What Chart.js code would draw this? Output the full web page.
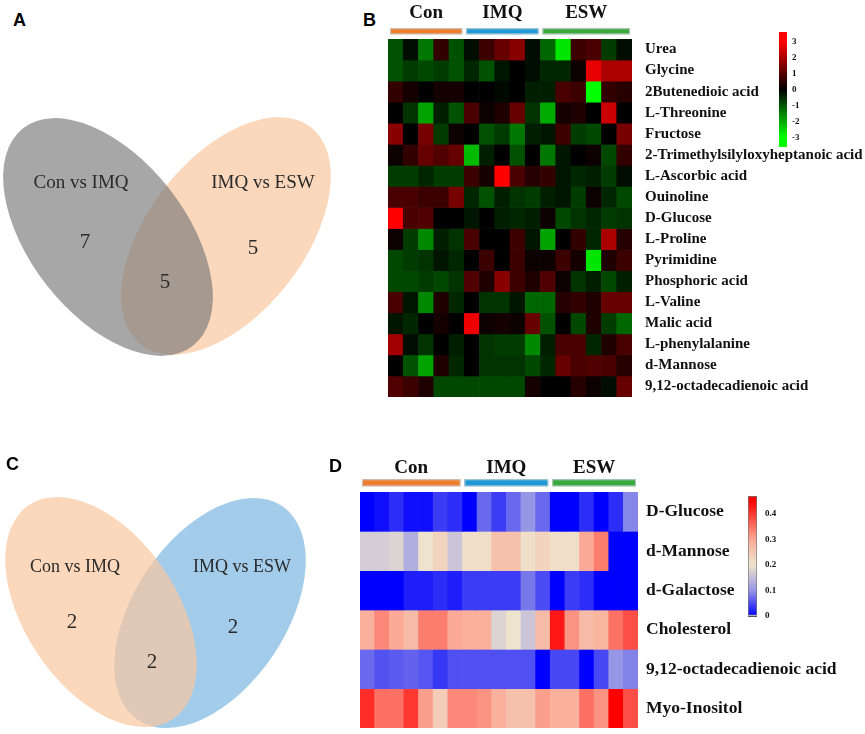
<!DOCTYPE html>
<html>
<head>
<meta charset="utf-8">
<title>Metabolite Venn diagrams and heatmaps</title>
<script src="https://cdn.jsdelivr.net/npm/chart.js@4.4.0/dist/chart.umd.min.js"></script>
<style>
    body { margin: 0; background: #fff; }
    #figure { position: relative; width: 865px; height: 734px; overflow: hidden; }
    #figure canvas { position: absolute; }
    .panel-tag { position: absolute; font: bold 18px "Liberation Sans", Arial, sans-serif; line-height: 18px; color: #000; }
</style>
</head>
<body>
<div id="figure">
    <canvas id="vennA" width="340" height="290" style="left:0px;top:90px"></canvas>
    <canvas id="vennC" width="340" height="264" style="left:0px;top:470px"></canvas>
    <canvas id="heatB" width="485" height="410" style="left:380px;top:0px"></canvas>
    <canvas id="heatD" width="515" height="294" style="left:350px;top:440px"></canvas>
    <canvas id="barB" width="40" height="130" style="left:770px;top:25px"></canvas>
    <canvas id="barD" width="50" height="135" style="left:740px;top:490px"></canvas>
    <div class="panel-tag" style="left:13px;top:11px">A</div>
    <div class="panel-tag" style="left:363px;top:11px">B</div>
    <div class="panel-tag" style="left:6px;top:455px">C</div>
    <div class="panel-tag" style="left:329px;top:457px">D</div>
</div>
<script>
// ---- data ----
const groupNames = ["Con", "IMQ", "ESW"];
const groupColors = ["#f07d2c", "#1d9ad6", "#3aa93b"];

const samplesB = ["C1", "C2", "C3", "C4", "C5", "I1", "I2", "I3", "I4", "I5", "E1", "E2", "E3", "E4", "E5", "E6"];
const groupSizesB = [5, 5, 6];
const metabolitesB = [
    "Urea", "Glycine", "2Butenedioic acid", "L-Threonine", "Fructose",
    "2-Trimethylsilyloxyheptanoic acid", "L-Ascorbic acid", "Ouinoline", "D-Glucose", "L-Proline",
    "Pyrimidine", "Phosphoric acid", "L-Valine", "Malic acid", "L-phenylalanine",
    "d-Mannose", "9,12-octadecadienoic acid",
];
// z-scores, one row per metabolite, one value per sample
const zScoresB = [
    [-0.95, -0.15, -1.4, 0.6, -0.95, -0.15, 0.7, 1.2, 1.6, -0.15, -1.2, -2.7, 0.7, 0.85, -0.7, -0.15],
    [-0.95, -0.7, -0.85, -0.7, -0.95, -0.45, -0.95, -0.25, 0, -0.15, -0.45, -0.45, 0.15, 2.7, 2.0, 2.0],
    [0.6, 0.25, 0, 0.25, 0.25, 0, 0, -0.1, 0, -0.35, -0.35, 0.85, 0.7, -3, 0.6, 0.45],
    [0, -0.6, -1.9, -0.35, -0.95, 0.85, 0.15, 0.35, 1.2, -0.6, -2.0, 0.25, 0.35, 0, 2.4, 0],
    [1.6, 0, 1.4, -0.7, 0.15, 0, -0.95, -0.7, -1.4, -0.35, -0.25, 0.7, -0.7, -0.85, 0, 1.4],
    [0.15, 0.6, 1.2, 0.95, 1.2, -2.2, -0.35, 0, -0.95, 0, -1.4, -0.25, 0, 0.15, -0.85, 0.6],
    [-0.7, -0.7, -0.45, -0.7, -0.7, 0.7, 0.25, 3, 0.85, 0.45, 0.6, -0.25, -0.45, -0.35, -0.7, -0.15],
    [0.85, 0.85, 0.7, 0.7, 1.4, -0.45, -0.95, -0.35, -0.6, -0.7, -0.35, -0.25, -0.7, 0.15, -0.45, -0.85],
    [3, 0.85, 0.95, 0, 0, -0.25, 0, -0.35, -0.45, -0.35, 0.15, -0.85, -0.6, -0.45, -0.7, -0.6],
    [0.15, -0.7, -1.6, -0.35, -0.6, 0.85, 0, 0, 0.7, -0.25, -1.9, 0, 0.6, -0.45, 2.0, 0.45],
    [-0.85, -0.7, -0.6, -0.25, -0.45, 0, 0.7, 0, 0.7, 0.15, 0.15, 0.7, 0.25, -2.7, 0.35, 0.7],
    [-0.85, -0.85, -0.7, -0.85, -0.6, 0.95, 0.35, 1.6, 0.7, 0.35, 0.95, 0.15, -0.6, -0.35, -0.85, -0.35],
    [0.85, -0.25, -1.6, 0.35, -0.45, 0, -0.6, -0.6, -0.25, -1.2, -1.2, 0.45, 0.6, 0.35, 1.2, 1.2],
    [-0.25, -0.45, 0, 0.25, 0, 2.8, 0.15, 0.25, 0.15, 1.2, -0.95, 0, -0.85, 0.35, -0.7, -1.2],
    [1.9, -0.15, -0.6, 0, -0.35, 0, -0.6, -0.7, -0.7, -1.6, -0.35, 0.85, 0.85, -0.45, 0.35, 0.85],
    [0, -0.95, -1.9, 0.35, -0.45, 0, -0.6, -0.6, -0.6, -0.85, -0.45, 1.2, 0.85, 0.95, 0.85, 0.45],
    [0.95, 0.7, 0.35, -0.85, -0.85, -0.85, -0.85, -0.85, -0.85, 0.25, 0, 0, 0.45, 0.15, -0.15, 1.2],
];
const colorTicksB = [-3, -2, -1, 0, 1, 2, 3];

const samplesD = ["C1", "C2", "C3", "C4", "C5", "C6", "C7", "I1", "I2", "I3", "I4", "I5", "I6", "E1", "E2", "E3", "E4", "E5", "E6"];
const groupSizesD = [7, 6, 6];
const metabolitesD = ["D-Glucose", "d-Mannose", "d-Galactose", "Cholesterol", "9,12-octadecadienoic acid", "Myo-Inositol"];
const levelsD = [
    [0.0, 0.01, 0.03, 0.01, 0.01, 0.04, 0.03, 0.0, 0.07, 0.04, 0.07, 0.1, 0.07, 0.0, 0.0, 0.03, 0.0, 0.03, 0.09],
    [0.17, 0.17, 0.18, 0.13, 0.2, 0.23, 0.16, 0.21, 0.21, 0.26, 0.26, 0.21, 0.23, 0.21, 0.21, 0.3, 0.34, 0.0, 0.0],
    [0.0, 0.0, 0.0, 0.02, 0.02, 0.03, 0.02, 0.04, 0.04, 0.04, 0.04, 0.08, 0.05, 0.0, 0.04, 0.03, 0.0, 0.0, 0.0],
    [0.29, 0.33, 0.3, 0.27, 0.34, 0.34, 0.3, 0.29, 0.29, 0.18, 0.2, 0.16, 0.27, 0.43, 0.32, 0.27, 0.28, 0.35, 0.38],
    [0.07, 0.055, 0.06, 0.065, 0.057, 0.037, 0.053, 0.053, 0.053, 0.053, 0.053, 0.053, 0.0, 0.047, 0.047, 0.0, 0.047, 0.1, 0.087],
    [0.41, 0.35, 0.35, 0.4, 0.31, 0.24, 0.33, 0.33, 0.32, 0.29, 0.26, 0.26, 0.31, 0.29, 0.29, 0.35, 0.32, 0.45, 0.38],
];
const colorTicksD = [0, 0.1, 0.2, 0.3, 0.4];

const vennASets = ["Con vs IMQ", "IMQ vs ESW"];
const vennACounts = [7, 5, 5];
const vennCSets = ["Con vs IMQ", "IMQ vs ESW"];
const vennCCounts = [2, 2, 2];

// ---- colour maps ----
const rampStopsD = [0, 0.1, 0.2, 0.3, 0.45];
const rampColorsD = [[0, 0, 255], [150, 150, 230], [238, 228, 205], [250, 170, 150], [255, 0, 0]];

function rgb(c) {
    return `rgb(${c[0]},${c[1]},${c[2]})`;
}

function colorB(v) {
    const c = Math.round(255 * Math.min(1, Math.abs(v) / 3));
    return v >= 0 ? rgb([c, 0, 0]) : rgb([0, c, 0]);
}

function colorD(v) {
    if (v <= rampStopsD[0]) return rgb(rampColorsD[0]);
    for (let i = 1; i < rampStopsD.length; i++) {
        if (v <= rampStopsD[i]) {
            const t = (v - rampStopsD[i - 1]) / (rampStopsD[i] - rampStopsD[i - 1]);
            const a = rampColorsD[i - 1];
            const b = rampColorsD[i];
            return rgb(a.map((x, k) => Math.round(x + (b[k] - x) * t)));
        }
    }
    return rgb(rampColorsD[rampColorsD.length - 1]);
}

// ---- plugins ----
const groupHeaderPlugin = {
    id: "groupHeader",
    afterDraw(chart, args, opts) {
        const { ctx, chartArea } = chart;
        const xs = chart.scales.x;
        const band = xs.getPixelForValue(1) - xs.getPixelForValue(0);
        const top = chartArea.top - opts.barGap - opts.barHeight;
        let first = 0;
        ctx.save();
        opts.names.forEach((name, g) => {
            const last = first + opts.sizes[g] - 1;
            const left = xs.getPixelForValue(first) - band / 2 + opts.inset;
            const right = xs.getPixelForValue(last) + band / 2 - opts.inset;
            ctx.fillStyle = opts.colors[g];
            ctx.fillRect(left, top, right - left, opts.barHeight);
            ctx.strokeStyle = "rgba(190,200,205,0.9)";
            ctx.lineWidth = 1;
            ctx.strokeRect(left + 0.5, top + 0.5, right - left - 1, opts.barHeight - 1);
            ctx.fillStyle = "#111";
            ctx.font = opts.font;
            ctx.textAlign = "center";
            ctx.textBaseline = "alphabetic";
            ctx.fillText(name, (left + right) / 2, top - opts.textGap);
            first = last + 1;
        });
        ctx.restore();
    },
};

const vennPlugin = {
    id: "venn",
    beforeDatasetsDraw(chart, args, opts) {
        const { ctx } = chart;
        const { x, y } = chart.scales;
        ctx.save();
        opts.ellipses.forEach((e) => {
            const cx = x.getPixelForValue(e.cx);
            const cy = y.getPixelForValue(e.cy);
            const rx = Math.abs(x.getPixelForValue(e.cx + e.a) - cx);
            const ry = Math.abs(y.getPixelForValue(e.cy + e.b) - cy);
            ctx.beginPath();
            ctx.ellipse(cx, cy, rx, ry, (e.angle * Math.PI) / 180, 0, Math.PI * 2);
            ctx.fillStyle = e.color;
            ctx.fill();
        });
        ctx.restore();
    },
    afterDatasetsDraw(chart, args, opts) {
        const { ctx } = chart;
        ctx.save();
        ctx.fillStyle = "#2a2a2a";
        ctx.textAlign = "center";
        ctx.textBaseline = "middle";
        chart.data.datasets.forEach((ds, d) => {
            ctx.font = ds.textFont;
            chart.getDatasetMeta(d).data.forEach((pt, i) => {
                ctx.fillText(String(ds.texts[i]), pt.x, pt.y);
            });
        });
        ctx.restore();
    },
};

// ---- chart builders ----
function drawHeatmap(id, samples, rows, values, colorFn, sizes, layout) {
    const datasets = rows.map((name, r) => ({
        label: name,
        data: samples.map(() => 1),
        backgroundColor: values[r].map(colorFn),
        borderWidth: 0,
        barPercentage: 1,
        categoryPercentage: 1,
    }));

    return new Chart(document.getElementById(id), {
        type: "bar",
        data: { labels: samples, datasets: datasets },
        options: {
            responsive: false,
            animation: false,
            layout: { padding: layout.padding },
            plugins: {
                legend: { display: false },
                tooltip: { enabled: false },
                groupHeader: {
                    names: groupNames,
                    sizes: sizes,
                    colors: groupColors,
                    inset: layout.inset,
                    barGap: layout.barGap,
                    barHeight: layout.barHeight,
                    textGap: layout.textGap,
                    font: layout.headerFont,
                },
            },
            scales: {
                x: { display: false, stacked: true },
                y: { display: false, stacked: true, reverse: true, min: 0, max: rows.length },
                names: {
                    type: "linear",
                    position: "right",
                    reverse: true,
                    min: 0,
                    max: rows.length,
                    afterBuildTicks: (axis) => {
                        axis.ticks = rows.map((_, i) => ({ value: i + 0.5 }));
                    },
                    afterFit: (axis) => {
                        axis.width = layout.labelWidth;
                        axis.paddingTop = 0;
                        axis.paddingBottom = 0;
                    },
                    grid: { display: false, drawTicks: false },
                    border: { display: false },
                    ticks: {
                        autoSkip: false,
                        padding: layout.labelPad,
                        color: "#111",
                        font: { family: "'Liberation Serif', 'Times New Roman', serif", size: layout.labelSize, weight: "bold" },
                        callback: (v, i) => rows[i],
                    },
                },
            },
        },
        plugins: [groupHeaderPlugin],
    });
}

function drawColorBar(id, min, max, ticks, colorFn, layout) {
    return new Chart(document.getElementById(id), {
        type: "bar",
        data: {
            labels: [""],
            datasets: [
                {
                    data: [[min, max]],
                    barPercentage: 1,
                    categoryPercentage: 1,
                    borderWidth: layout.border,
                    borderColor: "#777",
                    borderSkipped: false,
                    backgroundColor: (context) => {
                        const area = context.chart.chartArea;
                        if (!area) return null;
                        const grad = context.chart.ctx.createLinearGradient(0, area.bottom, 0, area.top);
                        for (let i = 0; i <= 30; i++) {
                            grad.addColorStop(i / 30, colorFn(min + ((max - min) * i) / 30));
                        }
                        return grad;
                    },
                },
            ],
        },
        options: {
            responsive: false,
            animation: false,
            layout: { padding: layout.padding },
            plugins: { legend: { display: false }, tooltip: { enabled: false } },
            scales: {
                x: { display: false },
                y: {
                    min: min,
                    max: max,
                    position: "right",
                    z: 1,
                    afterBuildTicks: (axis) => {
                        axis.ticks = ticks.map((v) => ({ value: v }));
                    },
                    afterFit: (axis) => {
                        axis.width = layout.labelWidth;
                        axis.paddingTop = 0;
                        axis.paddingBottom = 0;
                    },
                    grid: { display: layout.tickLines, drawTicks: false, color: "rgba(40,40,60,0.8)", lineWidth: 1 },
                    border: { display: false },
                    ticks: {
                        padding: layout.labelPad,
                        color: "#111",
                        font: { family: "'Liberation Serif', 'Times New Roman', serif", size: 9, weight: "bold" },
                        callback: (v) => String(v),
                    },
                },
            },
        },
    });
}

function drawVenn(id, sets, counts, layout) {
    return new Chart(document.getElementById(id), {
        type: "scatter",
        data: {
            datasets: [
                { data: layout.namePos, texts: sets, textFont: layout.nameFont, pointRadius: 0 },
                { data: layout.countPos, texts: counts, textFont: layout.countFont, pointRadius: 0 },
            ],
        },
        options: {
            responsive: false,
            animation: false,
            layout: { padding: 0 },
            plugins: {
                legend: { display: false },
                tooltip: { enabled: false },
                venn: { ellipses: layout.ellipses },
            },
            scales: {
                x: { display: false, min: layout.xRange[0], max: layout.xRange[1] },
                y: { display: false, reverse: true, min: layout.yRange[0], max: layout.yRange[1] },
            },
        },
        plugins: [vennPlugin],
    });
}

document.addEventListener("DOMContentLoaded", () => {
    drawVenn("vennA", vennASets, vennACounts, {
        xRange: [0, 34],
        yRange: [9, 38],
        ellipses: [
            { cx: 22.6, cy: 23.6, a: 13.8, b: 7.8, angle: -52, color: "rgba(250,200,160,0.7)" },
            { cx: 10.8, cy: 23.7, a: 13.8, b: 7.8, angle: 52, color: "rgba(120,120,120,0.65)" },
        ],
        namePos: [{ x: 8.1, y: 18.3 }, { x: 26.3, y: 18.3 }],
        countPos: [{ x: 8.5, y: 24.2 }, { x: 16.5, y: 28.2 }, { x: 25.3, y: 24.8 }],
        nameFont: "19px 'Liberation Serif', 'Times New Roman', serif",
        countFont: "21px 'Liberation Serif', 'Times New Roman', serif",
    });

    drawVenn("vennC", vennCSets, vennCCounts, {
        xRange: [0, 34],
        yRange: [47, 73.4],
        ellipses: [
            { cx: 21.0, cy: 61.3, a: 12.9, b: 7.6, angle: -56, color: "rgba(100,170,220,0.6)" },
            { cx: 10.1, cy: 61.2, a: 12.9, b: 7.6, angle: 56, color: "rgba(250,200,160,0.7)" },
        ],
        namePos: [{ x: 7.5, y: 56.7 }, { x: 24.2, y: 56.7 }],
        countPos: [{ x: 7.2, y: 62.2 }, { x: 15.2, y: 66.2 }, { x: 23.3, y: 62.7 }],
        nameFont: "18px 'Liberation Serif', 'Times New Roman', serif",
        countFont: "21px 'Liberation Serif', 'Times New Roman', serif",
    });

    drawHeatmap("heatB", samplesB, metabolitesB, zScoresB, colorB, groupSizesB, {
        padding: { left: 8, top: 39, right: 0, bottom: 13 },
        labelWidth: 233,
        labelPad: 13,
        labelSize: 15,
        inset: 2,
        barGap: 4.7,
        barHeight: 6,
        textGap: 10,
        headerFont: "bold 19px 'Liberation Serif', 'Times New Roman', serif",
    });

    drawHeatmap("heatD", samplesD, metabolitesD, levelsD, colorD, groupSizesD, {
        padding: { left: 10, top: 52, right: 0, bottom: 6 },
        labelWidth: 227,
        labelPad: 8,
        labelSize: 17.5,
        inset: 2,
        barGap: 5.7,
        barHeight: 7,
        textGap: 6,
        headerFont: "bold 19px 'Liberation Serif', 'Times New Roman', serif",
    });

    drawColorBar("barB", -3.6, 3.6, colorTicksB, colorB, {
        padding: { left: 9, top: 7, right: 0, bottom: 8 },
        labelWidth: 23,
        labelPad: 5,
        border: 0,
        tickLines: false,
    });

    drawColorBar("barD", 0, 0.47, colorTicksD, colorD, {
        padding: { left: 8, top: 6, right: 0, bottom: 9 },
        labelWidth: 33,
        labelPad: 8,
        border: 1,
        tickLines: true,
    });
});
</script>
</body>
</html>
